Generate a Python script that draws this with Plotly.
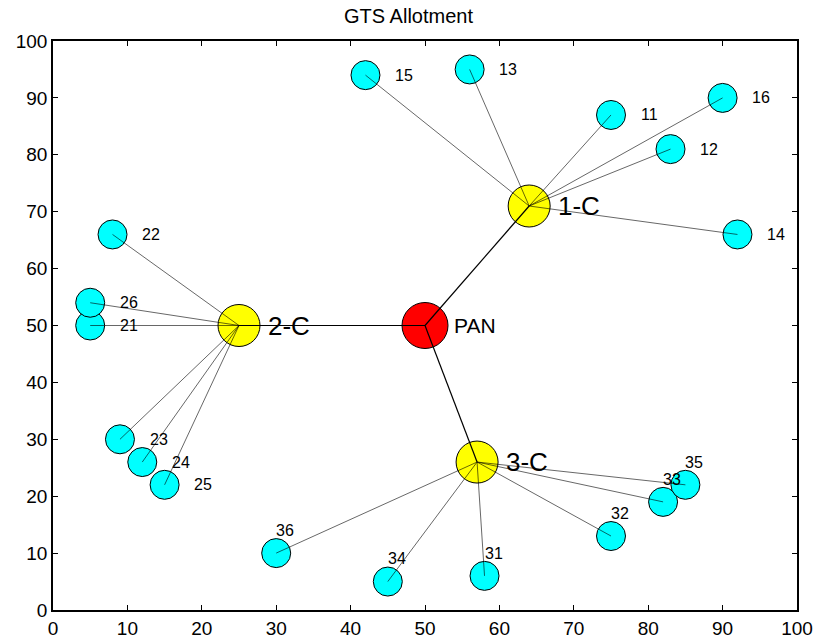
import plotly.graph_objects as go

# Coordinator (PAN) position
pan_x, pan_y = 50, 50

# Cluster heads
head_names = ["1-C", "2-C", "3-C"]
head_x = [64, 25, 57]
head_y = [71, 50, 26]

# Member nodes, grouped by cluster head (index into head lists)
node_ids = ["11", "12", "13", "14", "15", "16",
            "21", "22", "23", "24", "25", "26",
            "31", "32", "33", "34", "35", "36"]
node_x = [75, 83, 56, 92, 42, 90,
          5, 8, 9, 12, 15, 5,
          58, 75, 82, 45, 85, 30]
node_y = [87, 81, 95, 66, 94, 90,
          50, 66, 30, 26, 22, 54,
          6, 13, 19, 5, 22, 10]
node_head = [0, 0, 0, 0, 0, 0,
             1, 1, 1, 1, 1, 1,
             2, 2, 2, 2, 2, 2]

FONT = "Liberation Sans, Arial, sans-serif"

fig = go.Figure()

# Member nodes
fig.add_trace(go.Scatter(
    x=node_x, y=node_y, mode="markers",
    marker=dict(size=29, color="#00FFFF", line=dict(color="black", width=1)),
    hoverinfo="skip", showlegend=False))

# Cluster heads
fig.add_trace(go.Scatter(
    x=head_x, y=head_y, mode="markers",
    marker=dict(size=42, color="#FFFF00", line=dict(color="black", width=1)),
    hoverinfo="skip", showlegend=False))

# PAN coordinator
fig.add_trace(go.Scatter(
    x=[pan_x], y=[pan_y], mode="markers",
    marker=dict(size=46, color="#FF0000", line=dict(color="black", width=1)),
    hoverinfo="skip", showlegend=False))

# Links from each member to its cluster head
lx, ly = [], []
for x, y, h in zip(node_x, node_y, node_head):
    lx += [head_x[h], x, None]
    ly += [head_y[h], y, None]
fig.add_trace(go.Scatter(
    x=lx, y=ly, mode="lines",
    line=dict(color="black", width=0.6),
    hoverinfo="skip", showlegend=False))

# Links from PAN to each cluster head
tx, ty = [], []
for x, y in zip(head_x, head_y):
    tx += [pan_x, x, None]
    ty += [pan_y, y, None]
fig.add_trace(go.Scatter(
    x=tx, y=ty, mode="lines",
    line=dict(color="black", width=1.2),
    hoverinfo="skip", showlegend=False))

annotations = []
# Member labels: to the right for clusters 1 and 2, above for cluster 3
for nid, x, y, h in zip(node_ids, node_x, node_y, node_head):
    if h == 2:
        ax, ay = x, y + 4
    else:
        ax, ay = x + 4, y
    annotations.append(dict(x=ax, y=ay, text=nid, showarrow=False,
                            xanchor="left", yanchor="middle", xshift=-2,
                            font=dict(family=FONT, size=16, color="black")))
# Cluster-head labels
for name, x, y in zip(head_names, head_x, head_y):
    annotations.append(dict(x=x + 4, y=y, text=name, showarrow=False,
                            xanchor="left", yanchor="middle", xshift=-3,
                            font=dict(family=FONT, size=26, color="black")))
annotations.append(dict(x=pan_x + 4, y=pan_y, text="PAN", showarrow=False,
                        xanchor="left", yanchor="middle", xshift=-3,
                        font=dict(family=FONT, size=21, color="black")))

axis_common = dict(
    range=[0, 100], dtick=10, tick0=0, automargin=False,
    showline=True, linecolor="black", linewidth=1.5, mirror="allticks",
    ticks="inside", ticklen=5, tickcolor="black", tickwidth=1,
    showgrid=False, zeroline=False,
    tickfont=dict(family=FONT, size=19, color="black"),
)

fig.update_layout(
    width=817, height=642,
    margin=dict(l=53, r=20, t=41, b=32),
    paper_bgcolor="white", plot_bgcolor="white",
    title=dict(text="GTS Allotment", x=0.5, xanchor="center",
               y=1 - 16 / 642, yanchor="middle",
               font=dict(family=FONT, size=20, color="black")),
    xaxis=axis_common,
    yaxis=axis_common,
    annotations=annotations,
)

fig.write_html("out.html")
